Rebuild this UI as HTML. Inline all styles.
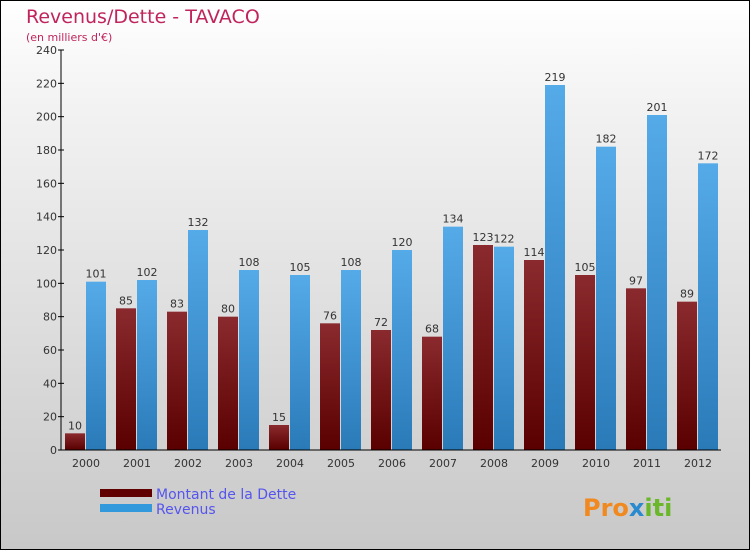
<!DOCTYPE html>
<html><head><meta charset="utf-8"><style>
html,body{margin:0;padding:0}
body{width:750px;height:550px;overflow:hidden;font-family:"DejaVu Sans","Liberation Sans",sans-serif}
#wrap{position:absolute;left:0;top:0;width:748px;height:548px;border:1px solid #000;background:linear-gradient(#fff,#f2f2f2 20%,#c8c8c8)}
</style></head><body>
<div id="wrap">
<svg id="chart" width="748" height="548" font-family="DejaVu Sans, Liberation Sans, sans-serif">
<defs>
<linearGradient id="gD" x1="0" y1="0" x2="0" y2="1"><stop offset="0" stop-color="#8a2a2e"/><stop offset="1" stop-color="#5a0000"/></linearGradient>
<linearGradient id="gR" x1="0" y1="0" x2="0" y2="1"><stop offset="0" stop-color="#55aae8"/><stop offset="1" stop-color="#2a7ab8"/></linearGradient>
</defs>
<text x="25" y="22" font-size="19" fill="#c0245c">Revenus/Dette - TAVACO</text>
<text x="25" y="40" font-size="11" fill="#c0245c">(en milliers d'€)</text>
<g id="plot"></g>
<rect x="99" y="488" width="52" height="8" fill="#600000"/>
<text x="155" y="498" font-size="14" fill="#5555ee">Montant de la Dette</text>
<rect x="99" y="503" width="52" height="8" fill="#3399dd"/>
<text x="155" y="513" font-size="14" fill="#5555ee">Revenus</text>
<text x="582" y="515" font-size="24" font-weight="bold" fill="#f08a20">Pro<tspan fill="#2a8ad0">x</tspan><tspan fill="#6ab82a">iti</tspan></text>
</svg>
</div>
<script>
const years=["2000","2001","2002","2003","2004","2005","2006","2007","2008","2009","2010","2011","2012"];
const dette=[10,85,83,80,15,76,72,68,123,114,105,97,89];
const revenus=[101,102,132,108,105,108,120,134,122,219,182,201,172];
const ticks=[0,20,40,60,80,100,120,140,160,180,200,220,240];
const NS="http://www.w3.org/2000/svg";
const g=document.getElementById('plot');
const y0=449,yTop=49,vmax=240,x0=60,step=51;
const Y=v=>y0-(v/vmax)*(y0-yTop);
const X=i=>x0+4+i*step;
function mk(t,a){const e=document.createElementNS(NS,t);for(const k in a)e.setAttribute(k,a[k]);g.appendChild(e);return e;}
ticks.forEach(t=>{
 const l=mk('line',{x1:x0-3,x2:x0+3,y1:Y(t),y2:Y(t),stroke:'#000'});
 
 
 const tx=mk('text',{x:x0-4,y:Y(t)+4,'font-size':11,'text-anchor':'end',fill:'#333'});tx.textContent=t;
 
 
});
years.forEach((yr,i)=>{
 const xd=X(i),w=20;
 const b1=mk('rect',{x:xd,y:Y(dette[i]),width:w,height:y0-Y(dette[i]),fill:'url(#gD)'});
 
 
 const b2=mk('rect',{x:xd+21,y:Y(revenus[i]),width:w,height:y0-Y(revenus[i]),fill:'url(#gR)'});
 
 
 const t1=mk('text',{x:xd+10,y:Y(dette[i])-4,'font-size':11,'text-anchor':'middle',fill:'#333'});t1.textContent=dette[i];
 
 
 const t2=mk('text',{x:xd+31,y:Y(revenus[i])-4,'font-size':11,'text-anchor':'middle',fill:'#333'});t2.textContent=revenus[i];
 
 
 const xl=mk('text',{x:xd+21,y:466,'font-size':11,'text-anchor':'middle',fill:'#333'});xl.textContent=yr;
 
 
});
const ya=mk('line',{x1:x0,x2:x0,y1:yTop,y2:y0,stroke:'#000'});


const xa=mk('line',{x1:x0,x2:720,y1:y0,y2:y0,stroke:'#000'});


</script>
</body></html>
